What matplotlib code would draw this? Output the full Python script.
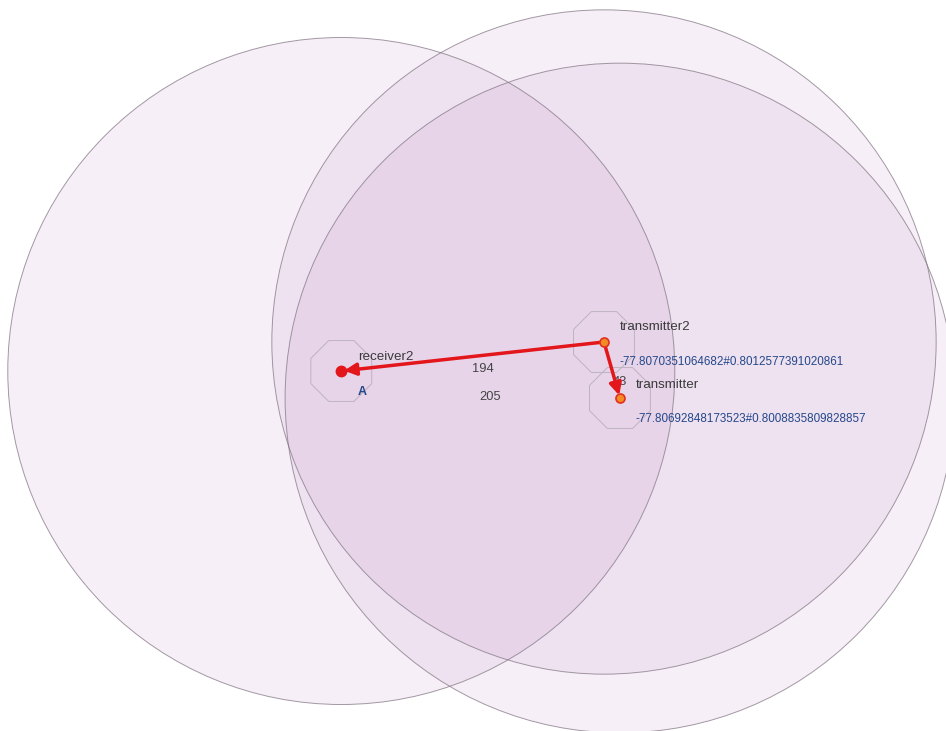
import numpy as np
import matplotlib.pyplot as plt
from matplotlib.patches import Circle, RegularPolygon

# nodes (lon, lat)
names = ["receiver2", "transmitter2", "transmitter"]
lons = [-77.80879, -77.8070351064682, -77.80692848173523]
lats = [0.801064, 0.8012577391020861, 0.8008835809828857]
coord_labels = ["", "-77.8070351064682#0.8012577391020861",
                "-77.80692848173523#0.8008835809828857"]
coverage_m = [248, 247, 249]   # big coverage circles, metres
near_m = 24.5                  # small octagon around each node

# links drawn as arrows (from, to) and distance labels (a, b, text)
arrows = [(1, 0), (1, 2)]
dist_labels = [(1, 0, "194"), (1, 2, "43"), (2, 0, "205")]

M2DEG = 1 / 111320.0
RED = "#e3161b"
FILL = (0.62, 0.30, 0.66)

fig = plt.figure(figsize=(9.46, 7.31), dpi=100)
ax = fig.add_axes([0, 0, 1, 1])

for lon, lat, r in zip(lons, lats, coverage_m):
    ax.add_patch(Circle((lon, lat), r * M2DEG, facecolor=FILL, alpha=0.085,
                        edgecolor="none", zorder=1))
    ax.add_patch(Circle((lon, lat), r * M2DEG, facecolor="none",
                        edgecolor="#857886", lw=0.7, alpha=0.75, zorder=2))

for lon, lat in zip(lons, lats):
    ax.add_patch(RegularPolygon((lon, lat), 8, radius=near_m * M2DEG,
                                orientation=np.pi / 8, facecolor="none",
                                edgecolor="#bdb3bf", lw=0.7, zorder=3))

for a, b, txt in dist_labels:
    mx, my = (lons[a] + lons[b]) / 2, (lats[a] + lats[b]) / 2
    dx = 8 if txt == "43" else 10   # short link label sits under the arrow
    ax.annotate(txt, (mx, my), xytext=(dx, -12), textcoords="offset pixels",
                ha="center", va="center", fontsize=9.3, color="#444444",
                family="Liberation Sans", zorder=5)

for a, b in arrows:
    ax.annotate("", xy=(lons[b], lats[b]), xytext=(lons[a], lats[a]),
                arrowprops=dict(arrowstyle="-|>", color=RED, lw=2.5,
                                mutation_scale=18, shrinkA=0, shrinkB=2),
                zorder=6)

# node markers
ax.plot(lons[0], lats[0], "o", ms=7.5, mfc=RED, mec=RED, zorder=7)
ax.plot(lons[1:], lats[1:], "o", ms=6.5, mfc="#f28a25", mec="#e0301e",
        mew=1.2, ls="none", zorder=7)

name_off = [(17, 14), (16, 15), (16, 13)]
coord_off = [(0, 0), (16, -20), (16, -21)]
for i, nm in enumerate(names):
    ax.annotate(nm, (lons[i], lats[i]), xytext=name_off[i],
                textcoords="offset pixels", ha="left", va="center",
                fontsize=9.6, color="#3a3a3a", family="Liberation Sans",
                zorder=8)
    if coord_labels[i]:
        ax.annotate(coord_labels[i], (lons[i], lats[i]), xytext=coord_off[i],
                    textcoords="offset pixels", ha="left", va="center",
                    fontsize=8.4, color="#24488a", family="Liberation Sans",
                    zorder=8)

ax.annotate("A", (lons[0], lats[0]), xytext=(21, -21),
            textcoords="offset pixels", ha="center", va="center",
            fontsize=9, color="#24488a", fontweight="bold",
            family="Liberation Sans", zorder=8)

ax.set_xlim(-77.8110698, -77.8047505)
ax.set_ylim(0.7986592, 0.8035423)
ax.set_aspect("equal")
ax.axis("off")

fig.savefig("out.png", dpi=100, facecolor="white")
